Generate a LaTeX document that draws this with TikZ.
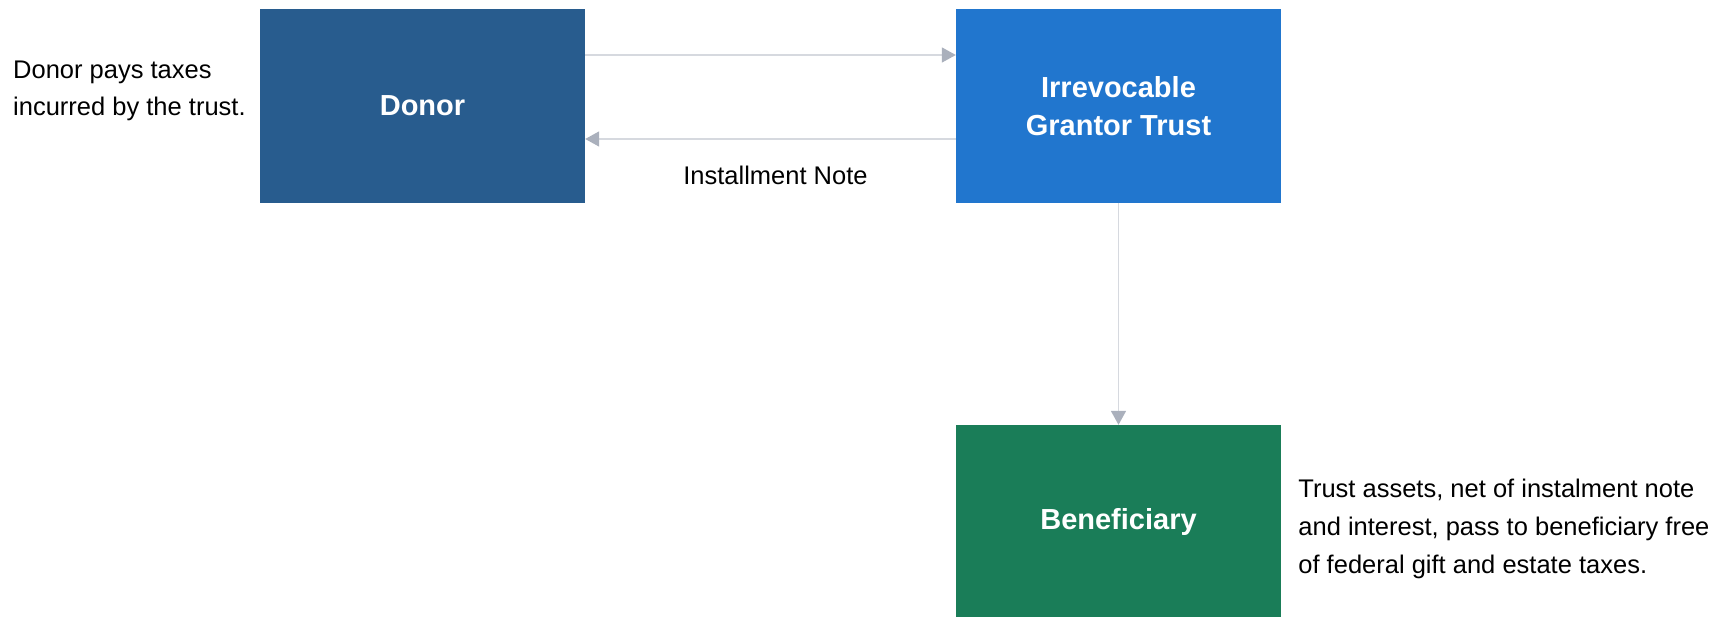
\documentclass[tikz,border=0pt]{standalone}
\usepackage{fontspec}
\setmainfont{Liberation Sans}
\usetikzlibrary{positioning,arrows.meta}
\definecolor{donorblue}{RGB}{40,92,142}
\definecolor{trustblue}{RGB}{33,118,206}
\definecolor{benefgreen}{RGB}{26,125,88}
\definecolor{linegray}{RGB}{214,217,223}
\definecolor{headgray}{RGB}{170,176,188}
\tikzset{
  box/.style={rectangle,fill=#1,minimum width=325pt,minimum height=194pt,inner sep=0pt,align=center,text=white,font=\bfseries\fontsize{29}{37.6}\selectfont},
  remark/.style={align=left,inner sep=0pt,font=\fontsize{25.5}{37.6}\selectfont},
  flow/.style={-{Triangle[length=14pt,width=15pt,color=headgray]},draw=linegray,line width=1.6pt}
}

\begin{document}
\begin{tikzpicture}[x=1pt,y=1pt,node distance=1pt,on grid,auto]
\useasboundingbox (0,0) rectangle (1735,-617);
\node[box=donorblue](donor) at (422.5,-106){Donor};
\node[box=trustblue](trust)[right=696pt of donor]{Irrevocable\\Grantor Trust};
\node[box=benefgreen](benef)[below=416pt of trust]{Beneficiary};
\node[remark,anchor=west](taxes) at (13,-91){Donor pays taxes\\incurred by the trust.};
\node[remark,anchor=west](assets)[right=17pt of benef.east,yshift=-7pt]{Trust assets, net of instalment note\\and interest, pass to beneficiary free\\of federal gift and estate taxes.};
\draw[flow] ([yshift=51pt]donor.east) -- ([yshift=51pt]trust.west);
\draw[flow] ([yshift=-33pt]trust.west) -- ([yshift=-33pt]donor.east) node[midway,xshift=5pt,yshift=-23pt,font=\fontsize{25.5}{37.6}\selectfont] {Installment Note};
\draw[flow] (trust) -- (benef);
\end{tikzpicture}
\end{document}
